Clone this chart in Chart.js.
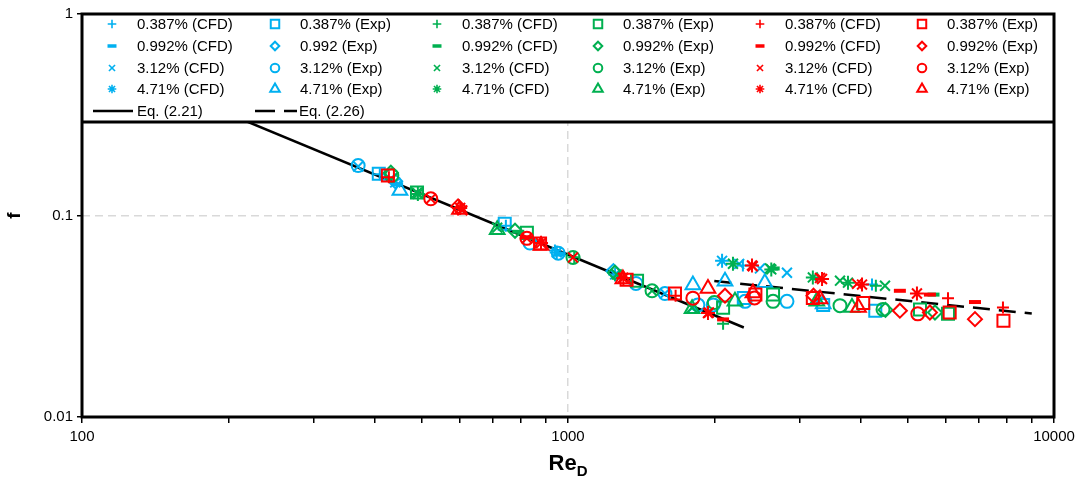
<!DOCTYPE html>
<html>
<head>
<meta charset="utf-8">
<script src="https://cdn.jsdelivr.net/npm/chart.js@4.4.0/dist/chart.umd.min.js"></script>
<style>
  html, body { margin: 0; padding: 0; background: #fff; }
  #wrap { width: 1085px; height: 481px; }
</style>
</head>
<body>
<div id="wrap"><canvas id="chart" width="1085" height="481"></canvas></div>
<script>
// ---- data: [Re_D, f] ----
const blueCfd387 = [[410,0.160],[745,0.089],[940,0.067],[2290,0.0565],[4222,0.0454]];
const blueCfd992 = [[445,0.143],[960,0.064]];
const blueCfd312 = [[370,0.175],[441,0.146],[1583,0.041],[1810,0.0352],[2250,0.0575],[2483,0.0546],[2822,0.052]];
const blueCfd471 = [[948,0.0656],[1250,0.051],[2075,0.0596]];
const blueExp387 = [[408,0.161],[741,0.091],[2300,0.039],[3350,0.036],[4288,0.0337]];
const blueExp992 = [[441,0.148],[1240,0.053]];
const blueExp312 = [[370,0.177],[835,0.073],[955,0.065],[1380,0.046],[1583,0.041],[1850,0.036],[1990,0.036],[2314,0.0375],[2822,0.0375]];
const blueExp471 = [[451,0.133],[1807,0.0452],[2104,0.0472],[2541,0.0464],[3350,0.0364]];

const greenCfd387 = [[1030,0.062],[2085,0.029],[4300,0.0448]];
const greenCfd992 = [[790,0.083],[2650,0.0546],[5650,0.0405]];
const greenCfd312 = [[489,0.130],[715,0.087],[1260,0.051],[1489,0.0423],[1800,0.0349],[2604,0.0546],[3628,0.0475],[4490,0.0448]];
const greenCfd471 = [[491,0.128],[2185,0.0576],[2620,0.054],[3190,0.0493],[3768,0.0464]];
const greenExp387 = [[489,0.130],[823,0.082],[1387,0.0475],[2085,0.0349],[2642,0.0405],[5300,0.0342],[6052,0.0325]];
const greenExp992 = [[432,0.163],[778,0.084],[1249,0.052],[4500,0.034],[5690,0.033]];
const greenExp312 = [[434,0.158],[1024,0.0619],[1489,0.0423],[2000,0.037],[2642,0.0375],[3628,0.0357],[4448,0.0342]];
const greenExp471 = [[715,0.085],[1800,0.0345],[2206,0.0375],[3250,0.0375],[3840,0.0349]];

const redCfd387 = [[428,0.155],[1665,0.040],[6052,0.0389],[7852,0.0349]];
const redCfd992 = [[820,0.078],[2085,0.0305],[4818,0.0423],[5555,0.0405],[6877,0.0372]];
const redCfd312 = [[522,0.121],[606,0.106],[823,0.077],[1024,0.0619],[1297,0.049],[1950,0.033],[2400,0.056],[3300,0.049],[3933,0.0458]];
const redCfd471 = [[600,0.109],[880,0.073],[1300,0.049],[1941,0.0328],[2391,0.0565],[3332,0.0484],[4027,0.0454],[5224,0.041]];
const redExp387 = [[426,0.158],[876,0.0726],[1320,0.048],[1660,0.041],[2430,0.0405],[3190,0.039],[4050,0.0368],[6100,0.033],[7870,0.030]];
const redExp992 = [[594,0.111],[2104,0.040],[3200,0.040],[4818,0.0337],[5555,0.033],[6877,0.0306]];
const redExp312 = [[522,0.121],[823,0.077],[1807,0.0389],[2420,0.039],[5245,0.0325]];
const redExp471 = [[598,0.107],[880,0.071],[1297,0.0484],[1941,0.0434],[2402,0.0413],[3300,0.0385],[3960,0.0349]];

// correlations, end points
const eq221 = [[100,0.64],[2300,0.0278]];
const eq226 = [[2000,0.0473],[9000,0.0326]];

const cfdLabels = ['0.387% (CFD)','0.992% (CFD)','3.12% (CFD)','4.71% (CFD)'];
const blueExpLabels = ['0.387% (Exp)','0.992 (Exp)','3.12% (Exp)','4.71% (Exp)'];
const expLabels = ['0.387% (Exp)','0.992% (Exp)','3.12% (Exp)','4.71% (Exp)'];
const lineLabels = ['Eq. (2.21)','Eq. (2.26)'];

const xTicks = [100,200,300,400,500,600,700,800,900,1000,2000,3000,4000,5000,6000,7000,8000,9000,10000];
const xTickLabels = {100:'100',1000:'1000',10000:'10000'};
const yTicks = [0.01,0.1,1];
const yTickLabels = {0.01:'0.01',0.1:'0.1',1:'1'};

// ---- styling ----
const colours = ['#00B0F0','#00B050','#FF0000'];
const cfdStyles = [
  {pointStyle:'cross', radius:6, bw:2},
  {pointStyle:'line', radius:6, bw:4},
  {pointStyle:'crossRot', radius:7, bw:2},
  {pointStyle:'star', radius:7, bw:2}
];
const expStyles = [
  {pointStyle:'rect', radius:8.5, bw:2},
  {pointStyle:'rectRot', radius:7, bw:2},
  {pointStyle:'circle', radius:6.5, bw:2},
  {pointStyle:'triangle', radius:8.5, bw:2}
];
const cfdSets = [
  [blueCfd387, blueCfd992, blueCfd312, blueCfd471],
  [greenCfd387, greenCfd992, greenCfd312, greenCfd471],
  [redCfd387, redCfd992, redCfd312, redCfd471]
];
const expSets = [
  [blueExp387, blueExp992, blueExp312, blueExp471],
  [greenExp387, greenExp992, greenExp312, greenExp471],
  [redExp387, redExp992, redExp312, redExp471]
];

const toXY = arr => arr.map(p => ({x: p[0], y: p[1]}));

const datasets = [];
const legendItems = [];
let n = 0;
colours.forEach((col, c) => {
  for (let k = 0; k < 4; k++) {
    const pairs = [[cfdSets[c][k], cfdStyles[k], cfdLabels[k], 2 * c],
                   [expSets[c][k], expStyles[k], (c === 0 ? blueExpLabels : expLabels)[k], 2 * c + 1]];
    pairs.forEach(([d, st, lab, colIdx]) => {
      datasets.push({
        label: lab,
        data: toXY(d),
        showLine: false,
        pointStyle: st.pointStyle,
        pointRadius: st.radius,
        pointHoverRadius: st.radius,
        pointBorderWidth: st.bw,
        borderColor: col,
        backgroundColor: 'rgba(0,0,0,0)',
        order: 50 - n
      });
      legendItems.push({row: k, col: colIdx, label: lab, colour: col, style: st});
      n++;
    });
  }
});

datasets.push({
  label: lineLabels[0], data: toXY(eq221), showLine: true, pointRadius: 0,
  borderColor: '#000', borderWidth: 2.5, order: 100
});
datasets.push({
  label: lineLabels[1], data: toXY(eq226), showLine: true, pointRadius: 0,
  borderColor: '#000', borderWidth: 2.5, borderDash: [17, 9], order: 100
});

const FONT = "'Liberation Sans', Arial, sans-serif";

// legend box, frame and axis titles
const overlay = {
  id: 'overlay',
  afterDatasetsDraw(chart) {
    const {ctx, chartArea: a} = chart;
    const boxH = 108;
    ctx.save();
    ctx.fillStyle = '#fff';
    ctx.fillRect(a.left, a.top, a.right - a.left, boxH);
    ctx.lineWidth = 3;
    ctx.strokeStyle = '#000';
    ctx.beginPath();
    ctx.moveTo(a.left, a.top + boxH);
    ctx.lineTo(a.right, a.top + boxH);
    ctx.stroke();

    const colX = [112, 275, 437, 598, 760, 922];
    const rowY = [24, 46, 68, 89];
    ctx.font = '15px ' + FONT;
    ctx.textBaseline = 'middle';
    ctx.textAlign = 'left';
    legendItems.forEach(it => {
      const x = colX[it.col], y = rowY[it.row];
      const ps = it.style.pointStyle;
      ctx.strokeStyle = it.colour;
      ctx.fillStyle = 'rgba(0,0,0,0)';
      ctx.lineWidth = ps === 'line' ? 3.5 : (ps === 'star' || ps === 'crossRot' || ps === 'cross') ? 1.6 : 2;
      Chart.helpers.drawPoint(ctx, {
        pointStyle: ps,
        radius: ps === 'rect' ? 6 : ps === 'triangle' ? 5.5 : ps === 'line' ? 4.5 : 4.3,
        rotation: 0,
        borderWidth: ctx.lineWidth
      }, x, y);
      ctx.fillStyle = '#000';
      ctx.fillText(it.label, x + 25, y + 1);
    });

    // line entries
    const ly = 111;
    ctx.strokeStyle = '#000';
    ctx.lineWidth = 2.5;
    ctx.setLineDash([]);
    ctx.beginPath(); ctx.moveTo(93, ly); ctx.lineTo(133, ly); ctx.stroke();
    ctx.setLineDash([20, 9]);
    ctx.beginPath(); ctx.moveTo(255, ly); ctx.lineTo(297, ly); ctx.stroke();
    ctx.setLineDash([]);
    ctx.fillStyle = '#000';
    ctx.fillText(lineLabels[0], 137, ly + 1);
    ctx.fillText(lineLabels[1], 299, ly + 1);
    ctx.restore();
  },
  afterDraw(chart) {
    const {ctx, chartArea: a} = chart;
    ctx.save();
    ctx.strokeStyle = '#000';
    ctx.lineWidth = 3;
    ctx.strokeRect(a.left, a.top, a.right - a.left, a.bottom - a.top);

    // y title
    ctx.fillStyle = '#000';
    ctx.font = 'bold 19px ' + FONT;
    ctx.textAlign = 'center';
    ctx.textBaseline = 'middle';
    ctx.translate(15, (a.top + a.bottom) / 2);
    ctx.rotate(-Math.PI / 2);
    ctx.fillText('f', 0, 0);
    ctx.setTransform(1, 0, 0, 1, 0, 0);

    // x title with subscript
    ctx.textAlign = 'left';
    ctx.textBaseline = 'alphabetic';
    ctx.font = 'bold 22px ' + FONT;
    const w1 = ctx.measureText('Re').width;
    ctx.font = 'bold 15px ' + FONT;
    const w2 = ctx.measureText('D').width;
    const x0 = (a.left + a.right) / 2 - (w1 + w2) / 2;
    ctx.font = 'bold 22px ' + FONT;
    ctx.fillText('Re', x0, 470);
    ctx.font = 'bold 15px ' + FONT;
    ctx.fillText('D', x0 + w1, 476);
    ctx.restore();
  }
};

const gridColour = val => (ctx) => (ctx.tick && ctx.tick.value === val) ? '#d9d9d9' : 'rgba(0,0,0,0)';

new Chart(document.getElementById('chart').getContext('2d'), {
  type: 'scatter',
  data: { datasets },
  options: {
    responsive: false,
    animation: false,
    layout: { padding: { top: 14, right: 31, left: 0, bottom: 0 } },
    plugins: { legend: { display: false }, tooltip: { enabled: false } },
    scales: {
      x: {
        type: 'logarithmic',
        min: 100, max: 10000,
        afterBuildTicks: s => { s.ticks = xTicks.map(v => ({value: v, major: v in xTickLabels})); },
        afterFit: s => { s.height = 64; },
        ticks: {
          autoSkip: false, maxRotation: 0, padding: 5,
          color: '#000', font: { size: 15, family: FONT },
          callback: v => xTickLabels[v] || ''
        },
        grid: {
          color: gridColour(1000), lineWidth: 1.5,
          tickColor: '#000', tickWidth: 1.5, tickLength: 6
        },
        border: { display: false, dash: [8, 5] }
      },
      y: {
        type: 'logarithmic',
        min: 0.01, max: 1,
        afterBuildTicks: s => { s.ticks = yTicks.map(v => ({value: v, major: true})); },
        afterFit: s => { s.width = 82; },
        ticks: {
          autoSkip: false, padding: 4,
          color: '#000', font: { size: 15, family: FONT },
          callback: v => yTickLabels[v] || ''
        },
        grid: {
          color: gridColour(0.1), lineWidth: 1.5,
          tickColor: '#000', tickWidth: 1.5, tickLength: 5
        },
        border: { display: false, dash: [8, 5] }
      }
    }
  },
  plugins: [overlay]
});
</script>
</body>
</html>
